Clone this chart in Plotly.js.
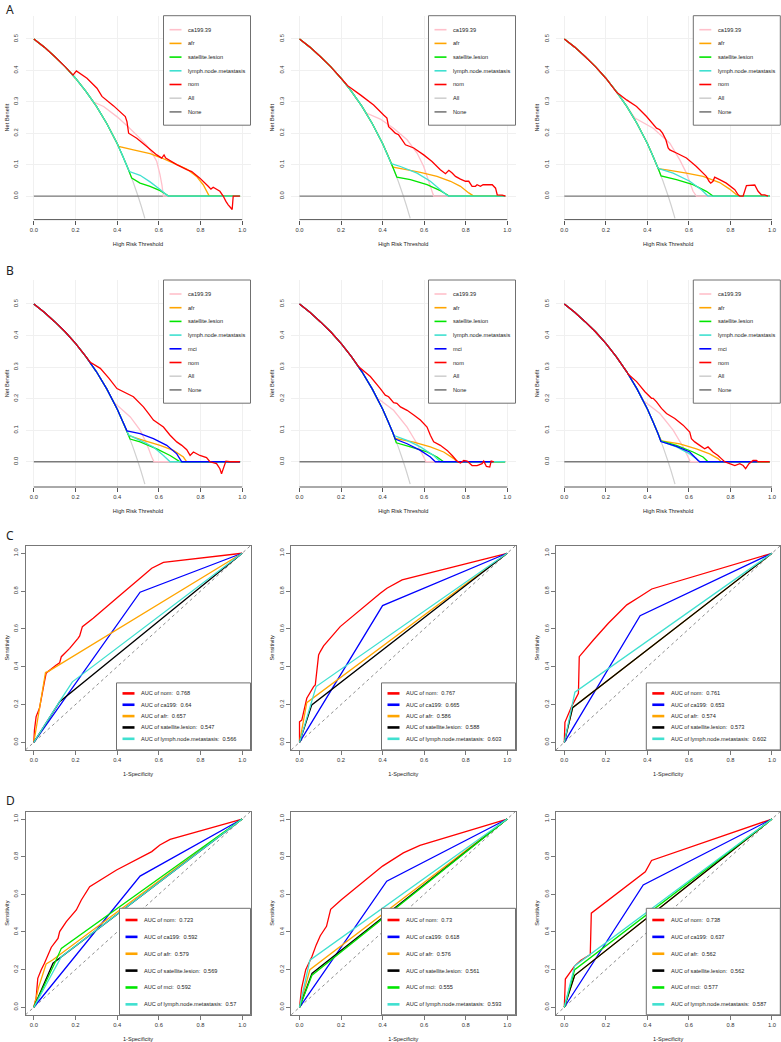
<!DOCTYPE html>
<html>
<head>
<meta charset="utf-8">
<script src="https://cdn.plot.ly/plotly-3.0.1.min.js"></script>
<style>
  html, body { margin: 0; padding: 0; background: #fff; }
  #chart { width: 781px; height: 1042px; }
</style>
</head>
<body>
<div id="chart"></div>
<script>
// ---------------- tick labels ----------------
const thrTickVals = [0, 0.2, 0.4, 0.6, 0.8, 1];
const thrTickText = ['0.0', '0.2', '0.4', '0.6', '0.8', '1.0'];
const nbTickVals = [0, 0.1, 0.2, 0.3, 0.4, 0.5];
const nbTickText = ['0.0', '0.1', '0.2', '0.3', '0.4', '0.5'];
const rocTickVals = [0, 0.2, 0.4, 0.6, 0.8, 1];
const rocTickText = ['0.0', '0.2', '0.4', '0.6', '0.8', '1.0'];

// ---------------- series names ----------------
const dcaNamesA = ['ca199.39', 'afr', 'satellite.lesion', 'lymph.node.metastasis', 'nom', 'All', 'None'];
const dcaNamesB = ['ca199.39', 'afr', 'satellite.lesion', 'lymph.node.metastasis', 'mci', 'nom', 'All', 'None'];
const rocNamesC = ['nom', 'ca199', 'afr', 'satellite.lesion', 'lymph.node.metastasis'];
const rocNamesD = ['nom', 'ca199', 'afr', 'satellite.lesion', 'mci', 'lymph.node.metastasis'];

// AUC values shown in the ROC legends
const aucC1 = ['0.768', '0.64', '0.657', '0.547', '0.566'];
const aucC2 = ['0.767', '0.665', '0.586', '0.588', '0.603'];
const aucC3 = ['0.761', '0.653', '0.574', '0.573', '0.602'];
const aucD1 = ['0.723', '0.592', '0.579', '0.569', '0.592', '0.57'];
const aucD2 = ['0.73', '0.618', '0.576', '0.561', '0.555', '0.593'];
const aucD3 = ['0.738', '0.637', '0.562', '0.562', '0.577', '0.587'];

// ---------------- decision curves: [threshold, net benefit] ----------------
const treatAll = [[0,0.5],[0.05,0.474],[0.1,0.444],[0.15,0.412],[0.2,0.375],[0.25,0.333],[0.3,0.286],[0.35,0.231],[0.4,0.167],[0.425,0.130],[0.45,0.091],[0.475,0.048],[0.5,0],[0.515,-0.031],[0.533,-0.071]];
const treatNone = [[0,0],[0.99,0]];

// panel A, left
const A1_ca199 = [[0,0.5],[0.05,0.474],[0.1,0.444],[0.15,0.412],[0.2,0.375],[0.25,0.333],[0.287,0.299],[0.335,0.285],[0.4,0.252],[0.45,0.222],[0.5,0.19],[0.54,0.163],[0.57,0.135],[0.59,0.11],[0.605,0.07],[0.615,0.035],[0.622,0],[0.99,0]];
const A1_afr = [[0,0.5],[0.05,0.474],[0.1,0.444],[0.15,0.412],[0.2,0.375],[0.25,0.333],[0.3,0.286],[0.35,0.231],[0.4,0.167],[0.407,0.158],[0.478,0.147],[0.558,0.135],[0.614,0.121],[0.67,0.105],[0.734,0.086],[0.781,0.0625],[0.813,0.036],[0.837,0.006],[0.842,0],[0.99,0]];
const A1_sat = [[0,0.5],[0.05,0.474],[0.1,0.444],[0.15,0.412],[0.2,0.375],[0.25,0.333],[0.3,0.286],[0.35,0.231],[0.4,0.167],[0.425,0.130],[0.45,0.091],[0.47,0.057],[0.51,0.041],[0.558,0.031],[0.606,0.017],[0.638,0.004],[0.646,0],[0.99,0]];
const A1_lymph = [[0,0.5],[0.05,0.474],[0.1,0.444],[0.15,0.412],[0.2,0.375],[0.25,0.333],[0.3,0.286],[0.35,0.231],[0.4,0.167],[0.425,0.130],[0.45,0.091],[0.459,0.078],[0.51,0.066],[0.558,0.045],[0.606,0.021],[0.638,0.003],[0.646,0],[0.99,0]];
const A1_nom = [[0,0.5],[0.05,0.474],[0.1,0.444],[0.15,0.412],[0.188,0.385],[0.204,0.398],[0.255,0.375],[0.303,0.343],[0.327,0.317],[0.383,0.287],[0.439,0.253],[0.447,0.237],[0.455,0.2],[0.494,0.184],[0.542,0.158],[0.59,0.131],[0.614,0.121],[0.625,0.131],[0.633,0.121],[0.686,0.1],[0.734,0.084],[0.758,0.078],[0.797,0.057],[0.837,0.031],[0.85,0.022],[0.861,0.028],[0.893,0.015],[0.909,0],[0.922,-0.017],[0.933,-0.028],[0.946,-0.038],[0.952,-0.043],[0.957,0],[0.989,0]];

// panel A, middle
const A2_ca199 = [[0,0.5],[0.05,0.474],[0.1,0.444],[0.15,0.412],[0.2,0.375],[0.25,0.333],[0.3,0.286],[0.322,0.264],[0.389,0.245],[0.453,0.216],[0.518,0.179],[0.566,0.137],[0.598,0.094],[0.622,0.047],[0.638,0.015],[0.646,0],[0.99,0]];
const A2_afr = [[0,0.5],[0.05,0.474],[0.1,0.444],[0.15,0.412],[0.2,0.375],[0.25,0.333],[0.3,0.286],[0.35,0.231],[0.4,0.167],[0.425,0.130],[0.45,0.092],[0.502,0.086],[0.582,0.075],[0.662,0.0625],[0.727,0.047],[0.775,0.031],[0.815,0.01],[0.839,0],[0.99,0]];
const A2_sat = [[0,0.5],[0.05,0.474],[0.1,0.444],[0.15,0.412],[0.2,0.375],[0.25,0.333],[0.3,0.286],[0.35,0.231],[0.4,0.167],[0.425,0.130],[0.45,0.091],[0.469,0.06],[0.534,0.052],[0.614,0.036],[0.678,0.017],[0.711,0.004],[0.719,0],[0.99,0]];
const A2_lymph = [[0,0.5],[0.05,0.474],[0.1,0.444],[0.15,0.412],[0.2,0.375],[0.25,0.333],[0.3,0.286],[0.35,0.231],[0.4,0.167],[0.442,0.103],[0.486,0.094],[0.566,0.073],[0.63,0.047],[0.678,0.02],[0.711,0.002],[0.719,0],[0.99,0]];
const A2_nom = [[0,0.5],[0.05,0.474],[0.1,0.444],[0.15,0.412],[0.2,0.375],[0.232,0.351],[0.293,0.322],[0.357,0.29],[0.405,0.258],[0.421,0.248],[0.429,0.221],[0.445,0.211],[0.461,0.2],[0.477,0.195],[0.494,0.179],[0.51,0.163],[0.55,0.153],[0.598,0.131],[0.638,0.11],[0.678,0.084],[0.703,0.071],[0.719,0.082],[0.735,0.073],[0.751,0.0625],[0.775,0.054],[0.799,0.047],[0.815,0.047],[0.831,0.031],[0.847,0.031],[0.855,0.036],[0.871,0.031],[0.884,0.036],[0.928,0.036],[0.944,0.025],[0.952,0.004],[0.976,0.003],[0.992,0]];

// panel A, right
const A3_ca199 = [[0,0.5],[0.05,0.474],[0.1,0.444],[0.15,0.412],[0.2,0.375],[0.25,0.333],[0.3,0.286],[0.34,0.248],[0.428,0.216],[0.508,0.168],[0.556,0.115],[0.588,0.073],[0.62,0.015],[0.636,0],[0.99,0]];
const A3_afr = [[0,0.5],[0.05,0.474],[0.1,0.444],[0.15,0.412],[0.2,0.375],[0.25,0.333],[0.3,0.286],[0.35,0.231],[0.4,0.167],[0.425,0.130],[0.452,0.087],[0.508,0.082],[0.588,0.073],[0.668,0.0625],[0.748,0.043],[0.796,0.022],[0.837,0],[0.99,0]];
const A3_sat = [[0,0.5],[0.05,0.474],[0.1,0.444],[0.15,0.412],[0.2,0.375],[0.25,0.333],[0.3,0.286],[0.35,0.231],[0.4,0.167],[0.425,0.130],[0.45,0.091],[0.466,0.064],[0.54,0.052],[0.62,0.036],[0.684,0.015],[0.716,0],[0.99,0]];
const A3_lymph = [[0,0.5],[0.05,0.474],[0.1,0.444],[0.15,0.412],[0.2,0.375],[0.25,0.333],[0.3,0.286],[0.35,0.231],[0.4,0.167],[0.425,0.130],[0.452,0.088],[0.524,0.073],[0.604,0.047],[0.66,0.02],[0.692,0],[0.99,0]];
const A3_nom = [[0,0.5],[0.05,0.474],[0.1,0.444],[0.15,0.412],[0.2,0.375],[0.252,0.33],[0.3,0.306],[0.348,0.285],[0.396,0.253],[0.444,0.216],[0.46,0.211],[0.473,0.2],[0.489,0.179],[0.5,0.153],[0.508,0.147],[0.54,0.137],[0.588,0.121],[0.636,0.094],[0.684,0.0625],[0.697,0.047],[0.705,0.041],[0.716,0.047],[0.724,0.06],[0.748,0.052],[0.78,0.041],[0.821,0.02],[0.837,0.004],[0.845,0],[0.861,0],[0.877,0.033],[0.917,0.035],[0.933,0.015],[0.949,0.004],[0.965,0.004],[0.981,0]];

// panel B, left
const B1_ca199 = [[0,0.5],[0.05,0.474],[0.1,0.444],[0.15,0.412],[0.2,0.375],[0.25,0.333],[0.3,0.286],[0.35,0.231],[0.385,0.188],[0.463,0.142],[0.51,0.1],[0.542,0.057],[0.566,0.015],[0.577,0],[0.99,0]];
const B1_afr = [[0,0.5],[0.05,0.474],[0.1,0.444],[0.15,0.412],[0.2,0.375],[0.25,0.333],[0.3,0.286],[0.35,0.231],[0.4,0.167],[0.425,0.130],[0.455,0.083],[0.526,0.068],[0.606,0.052],[0.67,0.036],[0.718,0.015],[0.734,0],[0.99,0]];
const B1_sat = [[0,0.5],[0.05,0.474],[0.1,0.444],[0.15,0.412],[0.2,0.375],[0.25,0.333],[0.3,0.286],[0.35,0.231],[0.4,0.167],[0.425,0.130],[0.45,0.091],[0.462,0.072],[0.51,0.063],[0.59,0.041],[0.654,0.02],[0.702,0],[0.99,0]];
const B1_lymph = [[0,0.5],[0.05,0.474],[0.1,0.444],[0.15,0.412],[0.2,0.375],[0.25,0.333],[0.3,0.286],[0.35,0.231],[0.4,0.167],[0.425,0.130],[0.455,0.085],[0.51,0.068],[0.574,0.047],[0.622,0.02],[0.654,0],[0.99,0]];
const B1_mci = [[0,0.5],[0.05,0.474],[0.1,0.444],[0.15,0.412],[0.2,0.375],[0.25,0.333],[0.3,0.286],[0.35,0.231],[0.4,0.167],[0.425,0.130],[0.447,0.098],[0.51,0.089],[0.574,0.073],[0.638,0.052],[0.686,0.025],[0.71,0],[0.99,0]];
const B1_nom = [[0,0.5],[0.05,0.474],[0.1,0.444],[0.15,0.412],[0.2,0.375],[0.25,0.333],[0.271,0.315],[0.319,0.296],[0.36,0.265],[0.399,0.232],[0.478,0.206],[0.526,0.174],[0.55,0.153],[0.574,0.132],[0.622,0.11],[0.654,0.084],[0.686,0.063],[0.71,0.052],[0.734,0.038],[0.75,0.02],[0.766,0.031],[0.797,0.02],[0.829,0.013],[0.845,0],[0.877,-0.006],[0.893,-0.022],[0.901,-0.038],[0.912,-0.017],[0.922,0.002],[0.941,0],[0.989,0]];

// panel B, middle
const B2_ca199 = [[0,0.5],[0.05,0.474],[0.1,0.444],[0.15,0.412],[0.2,0.375],[0.25,0.333],[0.3,0.286],[0.35,0.231],[0.373,0.203],[0.453,0.163],[0.518,0.11],[0.566,0.057],[0.598,0.015],[0.609,0],[0.99,0]];
const B2_afr = [[0,0.5],[0.05,0.474],[0.1,0.444],[0.15,0.412],[0.2,0.375],[0.25,0.333],[0.3,0.286],[0.35,0.231],[0.4,0.167],[0.425,0.130],[0.45,0.091],[0.46,0.074],[0.55,0.0625],[0.63,0.047],[0.694,0.031],[0.743,0.01],[0.759,0],[0.99,0]];
const B2_sat = [[0,0.5],[0.05,0.474],[0.1,0.444],[0.15,0.412],[0.2,0.375],[0.25,0.333],[0.3,0.286],[0.35,0.231],[0.4,0.167],[0.425,0.130],[0.45,0.091],[0.466,0.06],[0.534,0.047],[0.614,0.031],[0.662,0.015],[0.694,0],[0.99,0]];
const B2_lymph = [[0,0.5],[0.05,0.474],[0.1,0.444],[0.15,0.412],[0.2,0.375],[0.25,0.333],[0.3,0.286],[0.35,0.231],[0.4,0.167],[0.425,0.130],[0.455,0.083],[0.518,0.068],[0.582,0.047],[0.646,0.02],[0.678,0],[0.99,0]];
const B2_mci = [[0,0.5],[0.05,0.474],[0.1,0.444],[0.15,0.412],[0.2,0.375],[0.25,0.333],[0.3,0.286],[0.35,0.231],[0.4,0.167],[0.425,0.130],[0.45,0.091],[0.461,0.072],[0.518,0.057],[0.582,0.036],[0.63,0.015],[0.654,0],[0.93,0]];
const B2_nom = [[0,0.5],[0.05,0.474],[0.1,0.444],[0.15,0.412],[0.2,0.375],[0.25,0.333],[0.285,0.301],[0.341,0.27],[0.389,0.232],[0.413,0.211],[0.429,0.206],[0.453,0.187],[0.469,0.185],[0.486,0.174],[0.518,0.163],[0.55,0.148],[0.582,0.132],[0.614,0.11],[0.63,0.084],[0.646,0.063],[0.678,0.052],[0.711,0.036],[0.735,0.02],[0.759,0.002],[0.775,-0.004],[0.791,0.004],[0.807,0.002],[0.831,-0.012],[0.855,-0.012],[0.879,-0.006],[0.887,0.002],[0.9,-0.015],[0.916,-0.017],[0.923,0.002],[0.936,0]];

// panel B, right
const B3_ca199 = [[0,0.5],[0.05,0.474],[0.1,0.444],[0.15,0.412],[0.2,0.375],[0.25,0.333],[0.3,0.286],[0.35,0.231],[0.38,0.194],[0.46,0.153],[0.524,0.1],[0.572,0.047],[0.596,0.015],[0.607,0],[0.99,0]];
const B3_afr = [[0,0.5],[0.05,0.474],[0.1,0.444],[0.15,0.412],[0.2,0.375],[0.25,0.333],[0.3,0.286],[0.35,0.231],[0.4,0.167],[0.425,0.130],[0.45,0.091],[0.468,0.066],[0.556,0.057],[0.636,0.041],[0.7,0.025],[0.74,0.01],[0.756,0],[0.99,0]];
const B3_sat = [[0,0.5],[0.05,0.474],[0.1,0.444],[0.15,0.412],[0.2,0.375],[0.25,0.333],[0.3,0.286],[0.35,0.231],[0.4,0.167],[0.425,0.130],[0.45,0.091],[0.465,0.066],[0.54,0.052],[0.62,0.031],[0.668,0.015],[0.692,0],[0.99,0]];
const B3_lymph = [[0,0.5],[0.05,0.474],[0.1,0.444],[0.15,0.412],[0.2,0.375],[0.25,0.333],[0.3,0.286],[0.35,0.231],[0.4,0.167],[0.425,0.130],[0.45,0.091],[0.465,0.065],[0.54,0.047],[0.604,0.025],[0.636,0.01],[0.652,0],[0.99,0]];
const B3_mci = [[0,0.5],[0.05,0.474],[0.1,0.444],[0.15,0.412],[0.2,0.375],[0.25,0.333],[0.3,0.286],[0.35,0.231],[0.4,0.167],[0.425,0.130],[0.45,0.091],[0.465,0.064],[0.54,0.049],[0.604,0.031],[0.644,0.004],[0.652,0],[0.93,0]];
const B3_nom = [[0,0.5],[0.05,0.474],[0.1,0.444],[0.15,0.412],[0.2,0.375],[0.25,0.333],[0.3,0.286],[0.308,0.277],[0.348,0.254],[0.388,0.222],[0.42,0.201],[0.428,0.201],[0.444,0.19],[0.468,0.169],[0.492,0.153],[0.532,0.137],[0.572,0.116],[0.604,0.094],[0.612,0.073],[0.628,0.063],[0.652,0.052],[0.676,0.041],[0.692,0.047],[0.716,0.031],[0.74,0.02],[0.756,0.01],[0.772,0],[0.796,-0.006],[0.821,-0.012],[0.845,-0.006],[0.861,-0.012],[0.873,-0.022],[0.889,-0.006],[0.909,0.004],[0.925,0.004],[0.933,0],[0.989,0]];

// ---------------- ROC curves: [1-specificity, sensitivity] ----------------
const C1_nom = [[0,0],[0.003,0.065],[0.011,0.136],[0.027,0.18],[0.051,0.321],[0.059,0.365],[0.068,0.374],[0.108,0.409],[0.124,0.421],[0.132,0.453],[0.172,0.497],[0.212,0.55],[0.22,0.563],[0.233,0.612],[0.285,0.656],[0.397,0.762],[0.51,0.868],[0.566,0.921],[0.622,0.952],[1,1]];
const C1_ca199 = [[0,0],[0.51,0.794],[1,1]];
const C1_afr = [[0,0],[0.056,0.37],[0.072,0.377],[1,1]];
const C1_sat = [[0,0],[0.124,0.215],[1,1]];
const C1_lymph = [[0,0],[0.12,0.21],[0.185,0.32],[1,1]];

const C2_nom = [[0,0],[0,0.109],[0.011,0.118],[0.035,0.233],[0.068,0.295],[0.076,0.303],[0.092,0.462],[0.1,0.48],[0.116,0.51],[0.196,0.612],[0.389,0.788],[0.421,0.815],[0.494,0.859],[1,1]];
const C2_ca199 = [[0,0],[0.4,0.723],[1,1]];
const C2_afr = [[0,0],[0.035,0.21],[1,1]];
const C2_sat = [[0,0],[0.059,0.198],[1,1]];
const C2_lymph = [[0,0],[0.08,0.295],[1,1]];

const C3_nom = [[0,0],[0.003,0.106],[0.035,0.189],[0.068,0.259],[0.072,0.453],[0.14,0.541],[0.212,0.63],[0.301,0.727],[0.365,0.771],[0.421,0.811],[1,1]];
const C3_ca199 = [[0,0],[0.365,0.67],[1,1]];
const C3_afr = [[0,0],[0.04,0.183],[1,1]];
const C3_sat = [[0,0],[0.04,0.183],[1,1]];
const C3_lymph = [[0,0],[0.051,0.265],[1,1]];

const D1_nom = [[0,0],[0.011,0.048],[0.019,0.154],[0.035,0.198],[0.051,0.234],[0.084,0.319],[0.116,0.366],[0.124,0.402],[0.156,0.455],[0.204,0.517],[0.228,0.57],[0.268,0.641],[0.397,0.729],[0.566,0.827],[0.605,0.862],[0.654,0.892],[1,1]];
const D1_ca199 = [[0,0],[0.51,0.697],[1,1]];
const D1_afr = [[0,0],[0.024,0.11],[0.059,0.23],[0.09,0.251],[1,1]];
const D1_sat = [[0,0],[0.092,0.234],[1,1]];
const D1_mci = [[0,0],[0.1,0.234],[0.132,0.313],[1,1]];
const D1_lymph = [[0,0],[0.132,0.269],[1,1]];

const D2_nom = [[0,0],[0.01,0.1],[0.03,0.2],[0.06,0.27],[0.08,0.33],[0.1,0.38],[0.13,0.43],[0.15,0.52],[0.2,0.57],[0.3,0.66],[0.4,0.75],[0.5,0.82],[0.58,0.86],[1,1]];
const D2_ca199 = [[0,0],[0.42,0.67],[1,1]];
const D2_afr = [[0,0],[0.05,0.2],[1,1]];
const D2_sat = [[0,0],[0.06,0.18],[1,1]];
const D2_mci = [[0,0],[0.06,0.17],[1,1]];
const D2_lymph = [[0,0],[0.05,0.25],[1,1]];

const D3_nom = [[0,0],[0.005,0.15],[0.05,0.22],[0.08,0.25],[0.125,0.28],[0.13,0.5],[0.39,0.72],[0.42,0.78],[1,1]];
const D3_ca199 = [[0,0],[0.38,0.65],[1,1]];
const D3_afr = [[0,0],[0.05,0.17],[1,1]];
const D3_sat = [[0,0],[0.05,0.17],[1,1]];
const D3_mci = [[0,0],[0.05,0.2],[1,1]];
const D3_lymph = [[0,0],[0.05,0.22],[1,1]];

// ---------------- colours ----------------
const C_PINK = '#FFC0CB', C_ORANGE = '#FFA500', C_GREEN = '#00E600', C_TURQ = '#40E0D0',
      C_BLUE = '#0000FF', C_RED = '#FF0000', C_BLACK = '#000000', C_ALL = '#D0D0D0', C_NONE = '#7A7A7A';

// ---------------- page geometry (pixels) ----------------
const W = 781, H = 1042;
const FONT = 'Liberation Sans, Arial, Helvetica, sans-serif';
const colPx = [[25.5, 250.5], [291.2, 515.5], [556, 780.3]];
const rowPx = [[15.7, 219.6], [280, 487], [545.7, 749.9], [811.5, 1014.8]];
const px = v => v / W;
const py = v => 1 - v / H;

const tickFont = { family: FONT, size: 5.8, color: '#333' };
const titleFont = { family: FONT, size: 5.6, color: '#222' };
const legendFont = { family: FONT, size: 5.6, color: '#222' };

const traces = [];
const shapes = [];
const annotations = [];
const layout = {
  width: W, height: H,
  margin: { l: 0, r: 0, t: 0, b: 0 },
  paper_bgcolor: '#ffffff', plot_bgcolor: '#ffffff',
  showlegend: false,
  font: { family: FONT, size: 5.6, color: '#222' },
  shapes: shapes, annotations: annotations
};

function line(pts, xa, ya, color, width) {
  traces.push({
    type: 'scatter', mode: 'lines',
    x: pts.map(p => p[0]), y: pts.map(p => p[1]),
    xaxis: xa, yaxis: ya,
    line: { color: color, width: width, simplify: false },
    hoverinfo: 'skip', showlegend: false
  });
}

function boxLegend(x0, y0, x1, y1, labels, colors, firstY, step, segW) {
  shapes.push({ type: 'rect', xref: 'paper', yref: 'paper', x0: px(x0), x1: px(x1), y0: py(y1), y1: py(y0),
                line: { color: '#707070', width: 1 }, fillcolor: 'rgba(255,255,255,1)', layer: 'above' });
  labels.forEach((lab, i) => {
    const yy = firstY + i * step;
    shapes.push({ type: 'line', xref: 'paper', yref: 'paper', x0: px(x0 + 6), x1: px(x0 + 18), y0: py(yy), y1: py(yy),
                  line: { color: colors[i], width: segW }, layer: 'above' });
    annotations.push({ xref: 'paper', yref: 'paper', x: px(x0 + 22.4), y: py(yy), xanchor: 'left', yanchor: 'middle',
                       text: lab, showarrow: false, font: legendFont });
  });
}

function dcaPanel(r, c, models, names, colors, yRange) {
  const k = r * 3 + c + 1, id = k === 1 ? '' : String(k);
  const xa = 'x' + id, ya = 'y' + id;
  layout['xaxis' + id] = {
    domain: [px(colPx[c][0]), px(colPx[c][1])], anchor: ya, range: [-0.04, 1.04],
    tickvals: thrTickVals, ticktext: thrTickText, ticks: 'outside', ticklen: 4, tickcolor: '#555', tickwidth: 1,
    showline: false, zeroline: false, showgrid: true, gridcolor: '#f0f0f0', gridwidth: 1,
    tickfont: tickFont, title: { text: 'High Risk Threshold', font: titleFont, standoff: 10 }
  };
  layout['yaxis' + id] = {
    domain: [py(rowPx[r][1]), py(rowPx[r][0])], anchor: xa, range: yRange,
    tickvals: nbTickVals, ticktext: nbTickText, tickangle: -90, ticks: 'outside', ticklen: 4, tickcolor: 'rgba(0,0,0,0)',
    showline: false, zeroline: false, showgrid: true, gridcolor: '#f0f0f0', gridwidth: 1,
    tickfont: tickFont, title: { text: 'Net Benefit', font: titleFont, standoff: 3 }
  };
  // x axis line spans the tick range only
  shapes.push({ type: 'line', xref: xa, yref: ya + ' domain', x0: 0, x1: 1, y0: 0, y1: 0, line: { color: '#555', width: 1 } });

  line(treatAll, xa, ya, C_ALL, 1.2);
  line(treatNone, xa, ya, C_NONE, 1.3);
  models.forEach((m, i) => line(m, xa, ya, colors[i], 1.3));

  const bx1 = colPx[c][1], bx0 = bx1 - 87, by0 = rowPx[r][0];
  const n = names.length;
  const by1 = by0 + 14 + (n - 1) * 13.7 + 13.3;
  boxLegend(bx0, by0, bx1, by1, names, colors.concat([C_ALL, C_NONE]), by0 + 14, 13.7, 1.6);
}

function rocPanel(r, c, curves, names, aucs, colors, legW, legH, legFirst, legStep) {
  const k = r * 3 + c + 1, id = String(k);
  const xa = 'x' + id, ya = 'y' + id;
  const axisCommon = {
    range: [-0.04, 1.04], ticks: 'outside', ticklen: 4, tickcolor: '#777', tickwidth: 1,
    showline: true, mirror: true, linecolor: '#777', linewidth: 1,
    showgrid: false, zeroline: false, tickfont: tickFont
  };
  layout['xaxis' + id] = Object.assign({}, axisCommon, {
    domain: [px(colPx[c][0]), px(colPx[c][1])], anchor: ya,
    tickvals: rocTickVals, ticktext: rocTickText,
    title: { text: '1-Specificity', font: titleFont, standoff: 10 }
  });
  layout['yaxis' + id] = Object.assign({}, axisCommon, {
    domain: [py(rowPx[r][1]), py(rowPx[r][0])], anchor: xa,
    tickvals: rocTickVals, ticktext: rocTickText, tickangle: -90,
    title: { text: 'Sensitivity', font: titleFont, standoff: 3 }
  });
  // chance diagonal
  shapes.push({ type: 'line', xref: xa + ' domain', yref: ya + ' domain', x0: 0, y0: 0, x1: 1, y1: 1,
                line: { color: '#808080', width: 0.9, dash: 'dot' }, layer: 'below' });

  curves.forEach((cv, i) => line(cv, xa, ya, colors[i], 1.3));

  const bx1 = colPx[c][1], bx0 = bx1 - legW, by1 = rowPx[r][1], by0 = by1 - legH;
  const labels = names.map((nm, i) => 'AUC of ' + nm + ':  ' + aucs[i]);
  boxLegend(bx0, by0, bx1, by1, labels, colors, by0 + legFirst, legStep, 2.6);
}

// ---------------- panels ----------------
const dcaColA = [C_PINK, C_ORANGE, C_GREEN, C_TURQ, C_RED];
const dcaColB = [C_PINK, C_ORANGE, C_GREEN, C_TURQ, C_BLUE, C_RED];
const rocColC = [C_RED, C_BLUE, C_ORANGE, C_BLACK, C_TURQ];
const rocColD = [C_RED, C_BLUE, C_ORANGE, C_BLACK, C_GREEN, C_TURQ];
const yRangeA = [-0.075, 0.574];
const yRangeB = [-0.08, 0.576];

dcaPanel(0, 0, [A1_ca199, A1_afr, A1_sat, A1_lymph, A1_nom], dcaNamesA, dcaColA, yRangeA);
dcaPanel(0, 1, [A2_ca199, A2_afr, A2_sat, A2_lymph, A2_nom], dcaNamesA, dcaColA, yRangeA);
dcaPanel(0, 2, [A3_ca199, A3_afr, A3_sat, A3_lymph, A3_nom], dcaNamesA, dcaColA, yRangeA);
dcaPanel(1, 0, [B1_ca199, B1_afr, B1_sat, B1_lymph, B1_mci, B1_nom], dcaNamesB, dcaColB, yRangeB);
dcaPanel(1, 1, [B2_ca199, B2_afr, B2_sat, B2_lymph, B2_mci, B2_nom], dcaNamesB, dcaColB, yRangeB);
dcaPanel(1, 2, [B3_ca199, B3_afr, B3_sat, B3_lymph, B3_mci, B3_nom], dcaNamesB, dcaColB, yRangeB);

rocPanel(2, 0, [C1_nom, C1_ca199, C1_afr, C1_sat, C1_lymph], rocNamesC, aucC1, rocColC, 134, 67, 10.5, 11.35);
rocPanel(2, 1, [C2_nom, C2_ca199, C2_afr, C2_sat, C2_lymph], rocNamesC, aucC2, rocColC, 134, 67, 10.5, 11.35);
rocPanel(2, 2, [C3_nom, C3_ca199, C3_afr, C3_sat, C3_lymph], rocNamesC, aucC3, rocColC, 134, 67, 10.5, 11.35);
rocPanel(3, 0, [D1_nom, D1_ca199, D1_afr, D1_sat, D1_mci, D1_lymph], rocNamesD, aucD1, rocColD, 131, 106.5, 11.7, 16.87);
rocPanel(3, 1, [D2_nom, D2_ca199, D2_afr, D2_sat, D2_mci, D2_lymph], rocNamesD, aucD2, rocColD, 134, 106.5, 11.7, 16.87);
rocPanel(3, 2, [D3_nom, D3_ca199, D3_afr, D3_sat, D3_mci, D3_lymph], rocNamesD, aucD3, rocColD, 134, 106.5, 11.7, 16.87);

// panel letters
[['A', 9], ['B', 270], ['C', 535], ['D', 800]].forEach(([t, y]) => {
  annotations.push({ xref: 'paper', yref: 'paper', x: px(4), y: py(y), xanchor: 'left', yanchor: 'middle',
                     text: t, showarrow: false, font: { family: 'Noto Sans, Open Sans, sans-serif', size: 12, color: '#222' } });
});

Plotly.newPlot('chart', traces, layout, { staticPlot: true, displayModeBar: false });
</script>
</body>
</html>
